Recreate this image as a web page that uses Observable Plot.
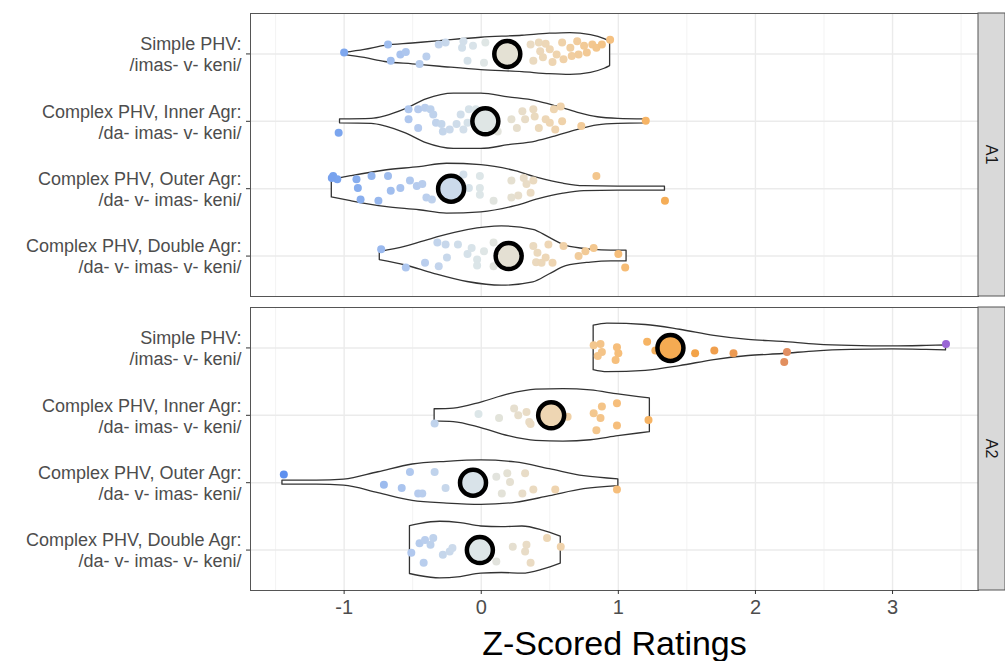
<!DOCTYPE html>
<html><head><meta charset="utf-8">
<script src="https://cdn.jsdelivr.net/npm/d3@7"></script>
<script src="https://cdn.jsdelivr.net/npm/@observablehq/plot@0.6"></script>
<style>body{margin:0;background:#fff;} svg{display:block}</style>
</head><body><div id="chart"></div>
<script>
// ---------- data ----------
const panels = ["A1", "A2"];
const categories = [
  "Simple PHV:\n/imas- v- keni/",
  "Complex PHV, Inner Agr:\n/da- imas- v- keni/",
  "Complex PHV, Outer Agr:\n/da- v- imas- keni/",
  "Complex PHV, Double Agr:\n/da- v- imas- v- keni/"
];
const xTicks = [-1, 0, 1, 2, 3];
const xMinorTicks = [-1.5, -0.5, 0.5, 1.5, 2.5, 3.5];
const xTitle = "Z-Scored Ratings";

const meansA1 = [0.19, 0.03, -0.22, 0.20];
const meansA2 = [1.38, 0.51, -0.06, -0.01];

// points: [rating, vertical jitter (category units)]
const ptsA1Simple = [[-1.00,-0.02],[-0.68,-0.14],[-0.66,0.10],[-0.59,0.01],[-0.55,-0.03],[-0.45,0.15],[-0.40,0.04],[-0.31,-0.14],[-0.26,-0.17],[-0.13,-0.19],[-0.14,-0.09],[-0.10,0.10],[-0.06,-0.12],[0.02,0.13],[0.03,-0.17],[0.12,-0.07],[0.25,0.06],[0.36,-0.14],[0.38,0.10],[0.42,-0.17],[0.43,-0.04],[0.45,0.05],[0.47,-0.15],[0.50,-0.07],[0.52,0.12],[0.55,0.01],[0.59,-0.17],[0.60,0.08],[0.65,-0.09],[0.66,0.03],[0.70,-0.19],[0.71,0.01],[0.75,-0.12],[0.77,-0.02],[0.81,-0.14],[0.84,-0.09],[0.88,-0.14],[0.94,-0.21]];
const ptsA1Inner = [[-1.04,0.17],[-0.53,-0.18],[-0.53,-0.03],[-0.46,0.10],[-0.46,-0.18],[-0.41,-0.20],[-0.37,-0.18],[-0.35,-0.10],[-0.33,0.02],[-0.29,0.04],[-0.28,0.15],[-0.23,0.12],[-0.18,0.04],[-0.15,-0.10],[-0.13,0.12],[-0.09,-0.18],[-0.10,0.02],[-0.04,-0.18],[0.12,0.15],[0.22,-0.03],[0.26,0.10],[0.30,-0.15],[0.32,-0.03],[0.38,-0.18],[0.39,-0.07],[0.42,0.10],[0.47,-0.03],[0.50,0.02],[0.53,-0.18],[0.54,0.12],[0.58,-0.22],[0.59,0.00],[0.73,0.07],[1.20,-0.01]];
const ptsA1Outer = [[-1.08,-0.19],[-1.05,-0.14],[-1.09,-0.16],[-0.91,-0.14],[-0.90,-0.01],[-0.88,0.16],[-0.80,-0.19],[-0.75,0.18],[-0.68,-0.19],[-0.66,0.03],[-0.59,-0.01],[-0.52,-0.12],[-0.47,-0.04],[-0.43,-0.07],[-0.40,0.13],[-0.36,0.16],[-0.25,0.15],[-0.13,-0.21],[-0.09,-0.01],[-0.01,-0.19],[-0.01,-0.01],[-0.01,0.09],[0.09,0.18],[0.22,-0.12],[0.22,0.13],[0.27,0.10],[0.31,-0.16],[0.33,-0.07],[0.36,0.06],[0.38,-0.12],[0.84,-0.19],[1.34,0.18]];
const ptsA1Double = [[-0.73,-0.10],[-0.55,0.17],[-0.41,0.10],[-0.32,-0.20],[-0.26,-0.17],[-0.31,0.15],[-0.25,0.02],[-0.17,-0.17],[-0.10,-0.03],[-0.07,-0.12],[-0.03,0.05],[-0.03,0.14],[0.02,-0.07],[0.09,-0.20],[0.09,0.15],[0.38,-0.15],[0.40,0.09],[0.41,-0.05],[0.44,0.10],[0.47,0.02],[0.49,-0.17],[0.52,0.10],[0.60,-0.15],[0.71,0.00],[0.76,-0.07],[0.82,-0.12],[1.00,-0.03],[1.05,0.17]];
const ptsA2Simple = [[0.82,-0.04],[0.87,-0.06],[0.88,0.06],[0.85,0.12],[0.99,-0.01],[1.00,0.08],[0.98,0.18],[1.21,-0.09],[1.27,0.04],[1.56,0.08],[1.70,0.04],[1.84,0.08],[2.23,0.06],[2.21,0.21],[3.39,-0.06]];
const ptsA2Inner = [[-0.34,0.12],[-0.02,-0.02],[0.13,0.04],[0.24,-0.10],[0.27,0.00],[0.33,-0.05],[0.35,0.10],[0.36,0.13],[0.63,0.02],[0.82,-0.03],[0.88,-0.13],[0.87,0.04],[0.84,0.22],[0.99,-0.18],[0.99,0.15],[1.22,0.07]];
const ptsA2Outer = [[-1.44,-0.12],[-0.71,0.03],[-0.52,-0.16],[-0.58,0.08],[-0.46,0.16],[-0.43,0.16],[-0.34,-0.16],[-0.26,0.08],[0.11,-0.09],[0.19,-0.14],[0.21,-0.01],[0.15,0.16],[0.30,0.16],[0.32,-0.14],[0.38,0.10],[0.54,0.10],[0.99,0.10]];
const ptsA2Double = [[-0.51,0.04],[-0.45,-0.10],[-0.41,-0.15],[-0.37,-0.08],[-0.35,-0.18],[-0.42,0.19],[-0.28,0.07],[-0.23,0.02],[-0.21,-0.03],[0.11,0.17],[0.23,-0.05],[0.32,0.02],[0.33,-0.08],[0.36,0.19],[0.48,-0.18],[0.58,-0.05]];

// violin outlines: [rating, half-width (category units)]
const vioA1Simple = [[-1.0,0.015],[-0.85,0.06],[-0.7,0.12],[-0.5,0.155],[-0.3,0.19],[0,0.24],[0.3,0.27],[0.5,0.30],[0.65,0.31],[0.8,0.28],[0.9,0.22],[0.94,0.18]];
const vioA1Inner = [[-1.03,0.03],[-0.8,0.037],[-0.7,0.074],[-0.55,0.18],[-0.4,0.325],[-0.2,0.41],[0,0.41],[0.2,0.355],[0.4,0.30],[0.55,0.22],[0.7,0.13],[0.85,0.06],[1.0,0.037],[1.2,0.03]];
const vioA1Outer = [[-1.09,0.13],[-0.95,0.185],[-0.7,0.27],[-0.45,0.32],[-0.25,0.37],[0,0.35],[0.25,0.26],[0.42,0.155],[0.6,0.074],[0.75,0.037],[1.0,0.03],[1.34,0.03]];
const vioA1Double = [[-0.74,0.06],[-0.55,0.14],[-0.35,0.26],[-0.1,0.385],[0.15,0.44],[0.38,0.39],[0.5,0.27],[0.62,0.15],[0.8,0.096],[0.95,0.08],[1.06,0.08]];
const vioA2Simple = [[0.82,0.33],[0.92,0.36],[1.2,0.34],[1.45,0.27],[1.7,0.18],[1.95,0.12],[2.2,0.09],[2.45,0.05],[2.7,0.03],[3.0,0.022],[3.25,0.03],[3.39,0.037]];
const vioA2Inner = [[-0.34,0.09],[-0.2,0.10],[0,0.19],[0.2,0.31],[0.4,0.38],[0.6,0.39],[0.8,0.37],[1.0,0.31],[1.15,0.27],[1.23,0.25]];
const vioA2Outer = [[-1.45,0.03],[-1.2,0.03],[-1.0,0.045],[-0.75,0.155],[-0.5,0.27],[-0.25,0.31],[0,0.33],[0.25,0.30],[0.5,0.20],[0.75,0.096],[1.0,0.05]];
const vioA2Double = [[-0.52,0.355],[-0.45,0.385],[-0.3,0.42],[-0.15,0.40],[0,0.35],[0.15,0.34],[0.3,0.35],[0.45,0.29],[0.58,0.20]];

const colorStops = [-1.5, -1.0, -0.5, 0, 0.5, 1.0, 1.5, 2.2, 3.4];
const colorRange = ["#5a8def","#7ea7ee","#b2c9ee","#dee7e8","#eed6b4","#f6be7a","#f5a546","#e38f5e","#9966d6"];

// ---------- tables built from the arrays ----------
const pointGroups = {A1: [ptsA1Simple, ptsA1Inner, ptsA1Outer, ptsA1Double], A2: [ptsA2Simple, ptsA2Inner, ptsA2Outer, ptsA2Double]};
const violinGroups = {A1: [vioA1Simple, vioA1Inner, vioA1Outer, vioA1Double], A2: [vioA2Simple, vioA2Inner, vioA2Outer, vioA2Double]};
const meanGroups = {A1: meansA1, A2: meansA2};
const points = [], violins = [], means = [];
for (const p of panels) {
  pointGroups[p].forEach((g, i) => g.forEach(([v, jit]) => points.push({panel: p, cat: i + 1, v, jit})));
  violinGroups[p].forEach((g, i) => g.forEach(([v, hw]) => violins.push({panel: p, cat: i + 1, key: p + i, v, hw})));
  meanGroups[p].forEach((m, i) => means.push({panel: p, cat: i + 1, m}));
}

const font = "'Liberation Sans', Arial, Helvetica, sans-serif";
const plot = Plot.plot({
  width: 1005, height: 661,
  marginLeft: 250, marginRight: 27, marginTop: 12, marginBottom: 70,
  style: {fontFamily: font, background: "white"},
  x: {domain: [-1.683, 3.627]},
  y: {domain: [4.6, 0.4]},
  fy: {domain: panels, paddingInner: 0.037, paddingOuter: 0, axis: null},
  color: {type: "linear", domain: colorStops, range: colorRange, interpolate: "rgb"},
  marks: [
    Plot.gridX({ticks: xMinorTicks, stroke: "#f3f3f3", strokeOpacity: 1, strokeWidth: 1}),
    Plot.gridX({ticks: xTicks, stroke: "#ebebeb", strokeOpacity: 1, strokeWidth: 1.4}),
    Plot.gridY({ticks: [1, 2, 3, 4], stroke: "#ebebeb", strokeOpacity: 1, strokeWidth: 1.4}),
    Plot.areaY(violins, {x: "v", y1: d => d.cat - d.hw, y2: d => d.cat + d.hw, z: "key", fy: "panel",
      fill: "white", stroke: "#333", strokeWidth: 1.3, curve: "monotone-x"}),
    Plot.dot(points, {x: "v", y: d => d.cat + d.jit, fy: "panel", fill: "v", r: 4}),
    Plot.dot(means, {x: "m", y: "cat", fy: "panel", fill: "m", stroke: "black", strokeWidth: 4.5, r: 13}),
    Plot.frame({stroke: "#555", strokeWidth: 1}),
    Plot.axisY({ticks: [1, 2, 3, 4], tickFormat: i => categories[i - 1], tickSize: 4, tickPadding: 5,
      fontSize: 18, lineHeight: 1.17, stroke: "#333", fill: "#4d4d4d", label: null}),
    Plot.axisX({ticks: xTicks, tickFormat: d => String(d), tickSize: 4, tickPadding: 5,
      fontSize: 20, stroke: "#333", fill: "#4d4d4d", label: null}),
    Plot.text([{panel: "A2"}], {fy: "panel", text: () => xTitle, frameAnchor: "bottom", dy: 64,
      fontSize: 34, fill: "black"})
  ]
});

// facet strips on the right, placed with the fy scale
const fy = plot.scale("fy");
const svg = d3.select(plot.tagName === "svg" ? plot : plot.querySelector("svg"));
const x0 = 1005 - 27;
for (const p of panels) {
  const y0 = fy.apply(p);
  const bw = fy.bandwidth;
  const g = svg.append("g");
  g.append("rect").attr("x", x0).attr("y", y0).attr("width", 27).attr("height", bw)
    .attr("fill", "#d9d9d9").attr("stroke", "#555").attr("stroke-width", 1);
  g.append("text").attr("transform", `translate(${x0 + 13.5},${y0 + bw / 2}) rotate(90)`)
    .attr("text-anchor", "middle").attr("dominant-baseline", "central")
    .attr("font-size", 16).attr("font-family", font).attr("fill", "#1a1a1a").text(p);
}
document.getElementById("chart").appendChild(plot);
</script>
</body></html>
